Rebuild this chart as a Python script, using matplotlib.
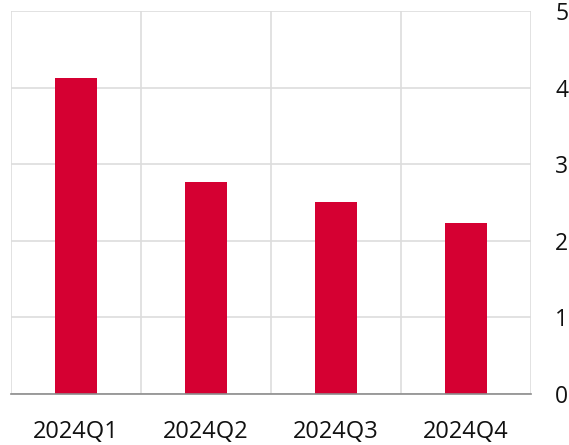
import matplotlib
matplotlib.use("Agg")
import matplotlib.pyplot as plt
from matplotlib.ticker import FixedLocator

plt.rcParams['font.family'] = ['Open Sans', 'DejaVu Sans']

quarters = ["2024Q1", "2024Q2", "2024Q3", "2024Q4"]
values = [4.13, 2.77, 2.51, 2.24]
y_ticks = [0, 1, 2, 3, 4, 5]

W, H = 569, 445
fig = plt.figure(figsize=(W / 100, H / 100), dpi=100)
left, right, top, bottom = 11, 531, 11.3, 394
ax = fig.add_axes([left / W, (H - bottom) / H, (right - left) / W, (bottom - top) / H])

x = list(range(len(quarters)))
ax.bar(x, values, width=0.32, color="#D50032", zorder=3)

ax.set_xlim(-0.5, len(quarters) - 0.5)
ax.set_ylim(0, 5)

ax.set_xticks(x)
ax.set_xticklabels(quarters)
ax.xaxis.set_minor_locator(FixedLocator([i - 0.5 for i in range(len(quarters) + 1)]))
ax.set_yticks(y_ticks)

ax.yaxis.tick_right()
ax.tick_params(axis="y", length=0, pad=17.5, labelsize=16.5, labelcolor="#111111")
ax.tick_params(axis="x", which="both", length=0, pad=18.5, labelsize=17, labelcolor="#111111")

ax.grid(axis="y", color="#DDDDDD", linewidth=1.2, zorder=0)
ax.grid(axis="x", which="minor", color="#DDDDDD", linewidth=1.2, zorder=0)
ax.grid(axis="x", which="major", visible=False)

for side in ("top", "left", "right"):
    ax.spines[side].set_visible(False)
ax.spines["bottom"].set_color("#8C8C8C")
ax.spines["bottom"].set_linewidth(1.2)
ax.spines["bottom"].set_zorder(4)

fig.savefig("out.png", dpi=100)
